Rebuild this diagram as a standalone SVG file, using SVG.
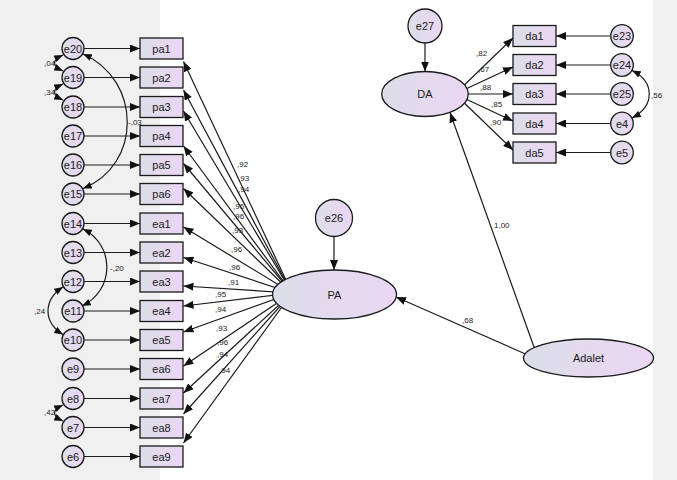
<svg xmlns="http://www.w3.org/2000/svg" width="677" height="480" viewBox="0 0 677 480">
<style>
.bg{fill:#f0f0f0}
.nd{fill:url(#g);stroke:#1a1a1a;stroke-width:1.3}
.lb{font-family:"Liberation Sans",Arial,sans-serif;font-size:11px;fill:#1a1a1a;text-anchor:middle}
.pl{font-family:"Liberation Sans",Arial,sans-serif;font-size:8px;fill:#222}
.ln{fill:none;stroke:#1a1a1a;stroke-width:1.2;marker-end:url(#ah)}
.cv{fill:none;stroke:#1a1a1a;stroke-width:1.2;marker-start:url(#ah2);marker-end:url(#ah2)}
</style>
<defs>
<linearGradient id="g" x1="0" y1="0" x2="1" y2="0">
<stop offset="0" stop-color="#dcdee9"/>
<stop offset="1" stop-color="#ebd6f3"/>
</linearGradient>
<marker id="ah" viewBox="0 0 10 8" refX="10" refY="4" markerWidth="10" markerHeight="8" markerUnits="userSpaceOnUse" orient="auto-start-reverse"><path d="M0,0 L10,4 L0,8 z" fill="#111"/></marker>
<marker id="ah2" viewBox="0 0 10 8" refX="10" refY="4" markerWidth="9" markerHeight="7" markerUnits="userSpaceOnUse" orient="auto-start-reverse"><path d="M0,0 L10,4 L0,8 z" fill="#111"/></marker>
</defs>
<rect width="677" height="480" fill="#fff"/>
<rect class="bg" x="0" y="0" width="160" height="480"/>
<rect class="bg" x="653" y="0" width="24" height="480"/>

<g id="connectors">
<!-- error to indicator (left) -->
<line class="ln" x1="84" y1="48.5" x2="140" y2="48.5"/>
<line class="ln" x1="84" y1="77.5" x2="140" y2="77.5"/>
<line class="ln" x1="84" y1="107" x2="140" y2="107"/>
<line class="ln" x1="84" y1="136" x2="140" y2="136"/>
<line class="ln" x1="84" y1="165" x2="140" y2="165"/>
<line class="ln" x1="84" y1="194" x2="140" y2="194"/>
<line class="ln" x1="84" y1="223.5" x2="140" y2="223.5"/>
<line class="ln" x1="84" y1="252.5" x2="140" y2="252.5"/>
<line class="ln" x1="84" y1="281.5" x2="140" y2="281.5"/>
<line class="ln" x1="84" y1="311" x2="140" y2="311"/>
<line class="ln" x1="84" y1="340" x2="140" y2="340"/>
<line class="ln" x1="84" y1="369" x2="140" y2="369"/>
<line class="ln" x1="84" y1="398.5" x2="140" y2="398.5"/>
<line class="ln" x1="84" y1="427.5" x2="140" y2="427.5"/>
<line class="ln" x1="84" y1="456.5" x2="140" y2="456.5"/>
<!-- PA loadings -->
<line class="ln" x1="292" y1="293" x2="183.5" y2="61.5"/>
<line class="ln" x1="292" y1="293" x2="183.5" y2="90"/>
<line class="ln" x1="292" y1="293" x2="183.5" y2="111"/>
<line class="ln" x1="292" y1="293" x2="183.5" y2="146"/>
<line class="ln" x1="292" y1="293" x2="183.5" y2="163.5"/>
<line class="ln" x1="292" y1="293" x2="183.5" y2="188.5"/>
<line class="ln" x1="292" y1="293" x2="183.5" y2="227"/>
<line class="ln" x1="292" y1="293" x2="183.5" y2="257.5"/>
<line class="ln" x1="292" y1="293" x2="183.5" y2="286"/>
<line class="ln" x1="292" y1="293" x2="183.5" y2="306"/>
<line class="ln" x1="292" y1="293" x2="183.5" y2="332"/>
<line class="ln" x1="292" y1="293" x2="183.5" y2="366"/>
<line class="ln" x1="292" y1="293" x2="183.5" y2="393"/>
<line class="ln" x1="292" y1="293" x2="183.5" y2="414"/>
<line class="ln" x1="292" y1="293" x2="183.5" y2="443"/>
<!-- disturbances -->
<line class="ln" x1="334" y1="237" x2="334" y2="270"/>
<line class="ln" x1="425" y1="43" x2="425" y2="71.5"/>
<!-- DA loadings -->
<line class="ln" x1="455" y1="94" x2="513" y2="38"/>
<line class="ln" x1="455" y1="94" x2="513" y2="67"/>
<line class="ln" x1="455" y1="94" x2="513" y2="94"/>
<line class="ln" x1="455" y1="94" x2="513" y2="121"/>
<line class="ln" x1="455" y1="94" x2="513" y2="150"/>
<!-- right errors -->
<line class="ln" x1="610.7" y1="36" x2="556" y2="36"/>
<line class="ln" x1="610.7" y1="65" x2="556" y2="65"/>
<line class="ln" x1="610.7" y1="94" x2="556" y2="94"/>
<line class="ln" x1="610.7" y1="123.5" x2="556" y2="123.5"/>
<line class="ln" x1="610.7" y1="152.5" x2="556" y2="152.5"/>
<!-- structural -->
<line class="ln" x1="530" y1="356" x2="396" y2="297"/>
<line class="ln" x1="534" y1="347" x2="450" y2="112.5"/>
<!-- covariances -->
<path class="cv" d="M63,55 Q46,63 63,71"/>
<path class="cv" d="M63,84 Q46,92 63,100"/>
<path class="cv" d="M63,405 Q46,413 63,421"/>
<path class="cv" d="M83,54 C142,80 142,165 83,188.5"/>
<path class="cv" d="M83,229 C115,245 115,290 82,306"/>
<path class="cv" d="M63,287 C43,300 43,322 63,334.5"/>
<path class="cv" d="M632,70.5 C655,82 655,106 632,118"/>
</g>

<g id="labels">
<text class="pl" x="237" y="167">,92</text>
<text class="pl" x="238" y="181">,93</text>
<text class="pl" x="238" y="192">,94</text>
<text class="pl" x="233" y="209">,96</text>
<text class="pl" x="233" y="219">,96</text>
<text class="pl" x="232" y="233">,93</text>
<text class="pl" x="231" y="252">,96</text>
<text class="pl" x="229" y="270">,96</text>
<text class="pl" x="228" y="285">,91</text>
<text class="pl" x="215" y="297">,95</text>
<text class="pl" x="215" y="312">,94</text>
<text class="pl" x="216" y="331">,93</text>
<text class="pl" x="217" y="345">,96</text>
<text class="pl" x="217" y="357">,94</text>
<text class="pl" x="219" y="373">,94</text>
<text class="pl" x="44" y="66">,04</text>
<text class="pl" x="44" y="95">,34</text>
<text class="pl" x="44" y="415">,42</text>
<text class="pl" x="128" y="125">-,03</text>
<text class="pl" x="110" y="271">-,20</text>
<text class="pl" x="34" y="314">,24</text>
<text class="pl" x="651" y="98">,56</text>
<text class="pl" x="476" y="56">,82</text>
<text class="pl" x="478" y="72">,67</text>
<text class="pl" x="480" y="90">,88</text>
<text class="pl" x="491" y="107">,85</text>
<text class="pl" x="490" y="125">,90</text>
<text class="pl" x="494" y="228">1,00</text>
<text class="pl" x="462" y="323">,68</text>
</g>

<g id="e20"><circle class="nd" cx="73" cy="48.5" r="11"/><text class="lb" x="73" y="52.5">e20</text></g>
<g id="e19"><circle class="nd" cx="73" cy="77.5" r="11"/><text class="lb" x="73" y="81.5">e19</text></g>
<g id="e18"><circle class="nd" cx="73" cy="107" r="11"/><text class="lb" x="73" y="111">e18</text></g>
<g id="e17"><circle class="nd" cx="73" cy="136" r="11"/><text class="lb" x="73" y="140">e17</text></g>
<g id="e16"><circle class="nd" cx="73" cy="165" r="11"/><text class="lb" x="73" y="169">e16</text></g>
<g id="e15"><circle class="nd" cx="73" cy="194" r="11"/><text class="lb" x="73" y="198">e15</text></g>
<g id="e14"><circle class="nd" cx="73" cy="223.5" r="11"/><text class="lb" x="73" y="227.5">e14</text></g>
<g id="e13"><circle class="nd" cx="73" cy="252.5" r="11"/><text class="lb" x="73" y="256.5">e13</text></g>
<g id="e12"><circle class="nd" cx="73" cy="281.5" r="11"/><text class="lb" x="73" y="285.5">e12</text></g>
<g id="e11"><circle class="nd" cx="73" cy="311" r="11"/><text class="lb" x="73" y="315">e11</text></g>
<g id="e10"><circle class="nd" cx="73" cy="340" r="11"/><text class="lb" x="73" y="344">e10</text></g>
<g id="e9"><circle class="nd" cx="73" cy="369" r="11"/><text class="lb" x="73" y="373">e9</text></g>
<g id="e8"><circle class="nd" cx="73" cy="398.5" r="11"/><text class="lb" x="73" y="402.5">e8</text></g>
<g id="e7"><circle class="nd" cx="73" cy="427.5" r="11"/><text class="lb" x="73" y="431.5">e7</text></g>
<g id="e6"><circle class="nd" cx="73" cy="456.5" r="11"/><text class="lb" x="73" y="460.5">e6</text></g>

<g id="pa1"><rect class="nd" x="140" y="38" width="43" height="21"/><text class="lb" x="161.5" y="52.5">pa1</text></g>
<g id="pa2"><rect class="nd" x="140" y="67" width="43" height="21"/><text class="lb" x="161.5" y="81.5">pa2</text></g>
<g id="pa3"><rect class="nd" x="140" y="96.5" width="43" height="21"/><text class="lb" x="161.5" y="111">pa3</text></g>
<g id="pa4"><rect class="nd" x="140" y="125.5" width="43" height="21"/><text class="lb" x="161.5" y="140">pa4</text></g>
<g id="pa5"><rect class="nd" x="140" y="154.5" width="43" height="21"/><text class="lb" x="161.5" y="169">pa5</text></g>
<g id="pa6"><rect class="nd" x="140" y="183.5" width="43" height="21"/><text class="lb" x="161.5" y="198">pa6</text></g>
<g id="ea1"><rect class="nd" x="140" y="213" width="43" height="21"/><text class="lb" x="161.5" y="227.5">ea1</text></g>
<g id="ea2"><rect class="nd" x="140" y="242" width="43" height="21"/><text class="lb" x="161.5" y="256.5">ea2</text></g>
<g id="ea3"><rect class="nd" x="140" y="271" width="43" height="21"/><text class="lb" x="161.5" y="285.5">ea3</text></g>
<g id="ea4"><rect class="nd" x="140" y="300.5" width="43" height="21"/><text class="lb" x="161.5" y="315">ea4</text></g>
<g id="ea5"><rect class="nd" x="140" y="329.5" width="43" height="21"/><text class="lb" x="161.5" y="344">ea5</text></g>
<g id="ea6"><rect class="nd" x="140" y="358.5" width="43" height="21"/><text class="lb" x="161.5" y="373">ea6</text></g>
<g id="ea7"><rect class="nd" x="140" y="388" width="43" height="21"/><text class="lb" x="161.5" y="402.5">ea7</text></g>
<g id="ea8"><rect class="nd" x="140" y="417" width="43" height="21"/><text class="lb" x="161.5" y="431.5">ea8</text></g>
<g id="ea9"><rect class="nd" x="140" y="446" width="43" height="21"/><text class="lb" x="161.5" y="460.5">ea9</text></g>

<g id="e26"><circle class="nd" cx="334" cy="218" r="18.5"/><text class="lb" x="334" y="222">e26</text></g>
<g id="PA"><ellipse class="nd" cx="334.5" cy="294.5" rx="62" ry="24.5"/><text class="lb" x="334.5" y="298.5">PA</text></g>
<g id="e27"><circle class="nd" cx="425" cy="26" r="17"/><text class="lb" x="425" y="30">e27</text></g>
<g id="DA"><ellipse class="nd" cx="425" cy="94" rx="43.3" ry="22.5"/><text class="lb" x="425" y="98">DA</text></g>
<g id="Adalet"><ellipse class="nd" cx="588.5" cy="358" rx="65" ry="19"/><text class="lb" x="588.5" y="362">Adalet</text></g>

<g id="da1"><rect class="nd" x="513" y="25.5" width="43" height="21"/><text class="lb" x="534.5" y="40">da1</text></g>
<g id="da2"><rect class="nd" x="513" y="54.5" width="43" height="21"/><text class="lb" x="534.5" y="69">da2</text></g>
<g id="da3"><rect class="nd" x="513" y="83.5" width="43" height="21"/><text class="lb" x="534.5" y="98">da3</text></g>
<g id="da4"><rect class="nd" x="513" y="113" width="43" height="21"/><text class="lb" x="534.5" y="127.5">da4</text></g>
<g id="da5"><rect class="nd" x="513" y="142" width="43" height="21"/><text class="lb" x="534.5" y="156.5">da5</text></g>

<g id="e23"><circle class="nd" cx="622" cy="36" r="11.3"/><text class="lb" x="622" y="40">e23</text></g>
<g id="e24"><circle class="nd" cx="622" cy="65" r="11.3"/><text class="lb" x="622" y="69">e24</text></g>
<g id="e25"><circle class="nd" cx="622" cy="94" r="11.3"/><text class="lb" x="622" y="98">e25</text></g>
<g id="e4"><circle class="nd" cx="622" cy="123.5" r="11.3"/><text class="lb" x="622" y="127.5">e4</text></g>
<g id="e5"><circle class="nd" cx="622" cy="152.5" r="11.3"/><text class="lb" x="622" y="156.5">e5</text></g>
</svg>
